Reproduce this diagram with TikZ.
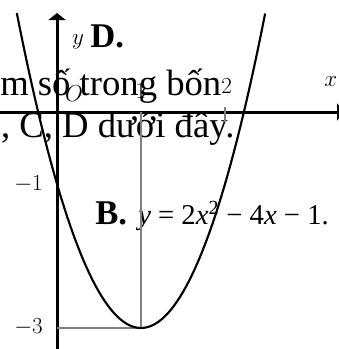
\documentclass[tikz,border=0pt]{standalone}
\usepackage{fontspec}
\newfontfamily\viet{Liberation Serif}
\usepackage{xcolor}
\definecolor{guidegray}{HTML}{808080}
\usepackage{tikz}
\usetikzlibrary{arrows.meta}
\tikzset{
  >={Triangle[length=5.25pt,width=12.75pt]},
  axis/.style ={->,line width=2.25pt},
  guide/.style={draw=guidegray,line width=1.6pt},
  curve/.style={line width=1.6pt},
  lbl/.style  ={font=\fontsize{18.5}{22}\selectfont,inner sep=0pt},
  txt/.style  ={font=\viet\fontsize{27.5}{32}\selectfont,inner sep=0pt,
                anchor=base west},
  opt/.style  ={font=\viet\bfseries\fontsize{26}{30}\selectfont,
                inner sep=0pt,anchor=base west},
  fml/.style  ={font=\viet\fontsize{21.5}{25}\selectfont,inner sep=0pt,
                anchor=base west},
}
\begin{document}
\begin{tikzpicture}[x=63pt,y=54pt]
\useasboundingbox (-0.679,-3.292) rectangle (3.357,1.556);
% question text behind the figure
\node[txt] (q1) at (-0.679,0.236) {m số trong bốn};
\node[txt] (q2) at (-0.67,-0.361) {, C, D dưới đây.};
\node[opt] (optd) at (0.393,0.903) {D.};
\node[opt] (optb) at (0.452,-1.569) {B.};
\node[fml] (fb) at (0.964,-1.569)
  {\textit{y} = 2\textit{x}\textsuperscript{2} − 4\textit{x} − 1.};
% axes
\coordinate (xs) at (-0.7,0);
\coordinate (xe) at (3.417,0);
\coordinate (ys) at (0,-3.35);
\coordinate (ye) at (0,1.375);
\draw[axis] (xs) -- (xe);
\draw[axis] (ys) -- (ye);
% guides to the vertex
\coordinate (v) at (1,-3);
\coordinate (x1) at (1,0);
\coordinate (y3) at (0,-3);
\coordinate (tka) at (2,0.069);
\coordinate (tkb) at (2,-0.139);
\draw[guide] (x1) -- (v);
\draw[guide] (y3) -- (v);
\draw[guide] (tka) -- (tkb);
% parabola
\draw[curve] plot[domain=-0.479:2.479,samples=80] (\x,{2*\x*\x-4*\x-1});
% axis labels
\node[lbl] (lx) at (3.26,0.43) {$x$};
\node[lbl] (ly) at (0.25,0.972) {$y$};
\node[lbl] (lo) at (0.202,0.25) {$O$};
\node[lbl] (l1) at (1.0,0.29) {$1$};
\node[lbl] (l2) at (2.02,0.36) {$2$};
\node[lbl,anchor=east] (lm1) at (-0.167,-1) {$-1$};
\node[lbl,anchor=east] (lm3) at (-0.167,-2.986) {$-3$};
\end{tikzpicture}
\end{document}
